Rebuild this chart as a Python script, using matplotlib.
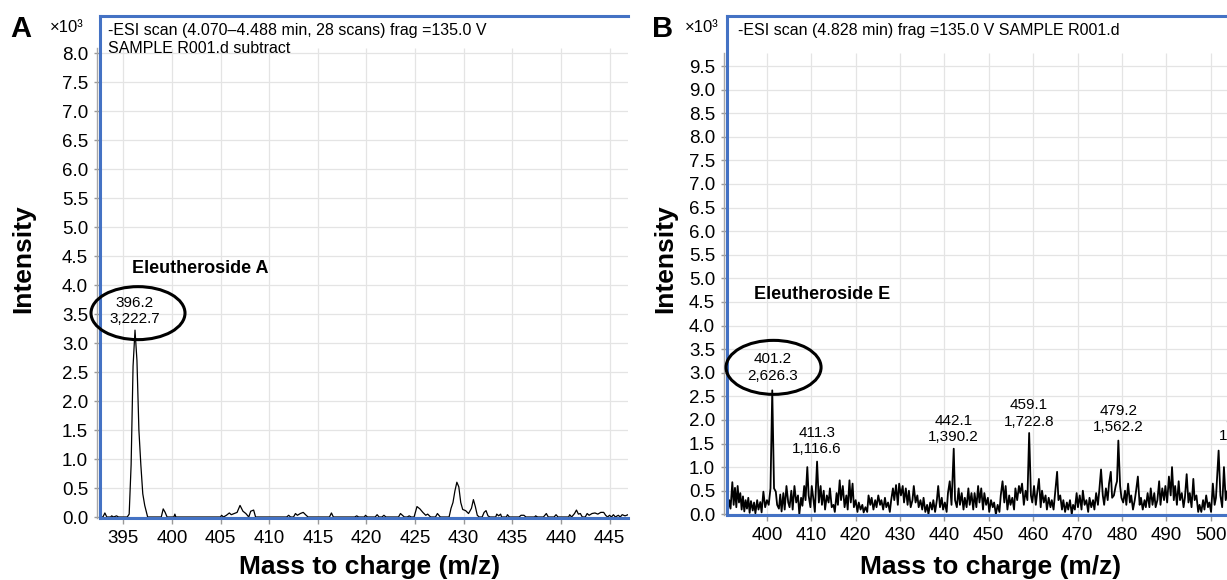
import numpy as np
import matplotlib.pyplot as plt
from matplotlib.patches import Ellipse
from matplotlib import transforms

plt.rcParams['font.family'] = ['Liberation Sans', 'DejaVu Sans']

# ---- panel A: Eleutheroside A spectrum (counts) ----
mz_a = [392.6, 392.9, 393.1, 393.3, 393.7, 393.8, 394.0, 394.3, 394.5, 395.4,
        395.6, 395.8, 396.0, 396.2, 396.4, 396.6, 396.8, 397.0, 397.2, 397.35,
        397.5, 398.9, 399.1, 399.3, 399.5, 400.2, 400.3, 400.4, 405.0, 405.1,
        405.3, 405.6, 405.9, 406.1, 406.4, 406.7, 407.0, 407.3, 407.6, 407.9,
        408.1, 408.4, 408.6, 411.8, 412.0, 412.2, 412.5, 412.7, 412.9, 413.2,
        413.5, 413.8, 414.0, 416.2, 416.4, 416.6, 418.8, 419.0, 419.2, 419.8,
        419.9, 420.1, 420.9, 421.1, 421.3, 421.6, 421.8, 422.0, 423.3, 423.5,
        423.7, 423.9, 424.2, 424.4, 424.6, 424.9, 425.2, 425.5, 425.8, 426.1,
        426.3, 426.6, 427.1, 427.3, 427.6, 428.5, 428.7, 428.9, 429.1, 429.3,
        429.5, 429.7, 429.9, 430.2, 430.5, 430.8, 431.0, 431.2, 431.4, 431.6,
        431.9, 432.1, 432.3, 432.5, 432.7, 433.3, 433.4, 433.6, 433.8, 433.9,
        434.4, 434.5, 434.7, 435.7, 435.9, 436.2, 436.4, 437.3, 437.4, 437.6,
        438.2, 438.5, 438.7, 439.3, 439.5, 439.7, 440.8, 440.9, 441.1, 441.4,
        441.6, 441.8, 442.0, 442.2, 442.5, 442.7, 442.9, 443.2, 443.5, 443.8,
        444.1, 444.4, 444.6, 444.8, 445.0, 445.2, 445.4, 445.6, 445.9, 446.1,
        446.3, 446.6, 446.9]
int_a = [0, 0, 70, 0, 0, 20, 0, 20, 0, 0,
         50, 900, 2600, 3222.7, 2700, 1500, 900, 400, 200, 100,
         0, 0, 140, 80, 0, 0, 50, 0, 0, 30,
         0, 30, 70, 40, 60, 80, 200, 100, 60, 0,
         100, 120, 0, 0, 30, 0, 0, 60, 30, 60,
         80, 30, 0, 0, 70, 0, 0, 20, 0, 0,
         30, 0, 0, 40, 0, 0, 30, 0, 0, 60,
         30, 0, 0, 20, 0, 0, 180, 140, 80, 30,
         50, 0, 0, 60, 0, 0, 150, 250, 450, 600,
         520, 250, 130, 110, 60, 150, 300, 180, 30, 0,
         0, 80, 110, 20, 0, 0, 50, 20, 50, 0,
         0, 40, 0, 0, 30, 30, 0, 0, 20, 0,
         0, 60, 0, 0, 40, 0, 0, 40, 0, 60,
         120, 50, 60, 0, 0, 60, 30, 60, 70, 50,
         80, 80, 30, 0, 30, 0, 40, 0, 30, 0,
         40, 20, 40]
peak_mz_a = [396.2]
peak_int_a = [3222.7]

# ---- panel B: Eleutheroside E spectrum (counts) ----
mz_b = [391.2, 391.5, 391.8, 392.2, 392.5, 392.8, 393.1, 393.4, 393.7, 394.0,
        394.3, 394.6, 394.9, 395.2, 395.5, 395.8, 396.1, 396.4, 396.8, 397.1,
        397.4, 397.8, 398.1, 398.5, 398.8, 399.2, 399.6, 400.0, 400.4, 400.8,
        401.2, 401.6, 402.0, 402.3, 402.7, 403.0, 403.3, 403.7, 404.0, 404.4,
        404.8, 405.1, 405.5, 405.8, 406.2, 406.6, 407.0, 407.3, 407.7, 408.0,
        408.4, 408.7, 409.1, 409.4, 409.8, 410.1, 410.5, 410.8, 411.3, 411.7,
        412.1, 412.4, 412.8, 413.1, 413.5, 413.9, 414.2, 414.6, 415.0, 415.3,
        415.7, 416.0, 416.4, 416.7, 417.1, 417.5, 417.9, 418.2, 418.6, 418.9,
        419.3, 419.6, 420.0, 420.4, 420.7, 421.1, 421.5, 421.8, 422.2, 422.6,
        422.9, 423.3, 423.6, 424.0, 424.4, 424.7, 425.1, 425.5, 425.8, 426.2,
        426.6, 426.9, 427.3, 427.7, 428.0, 428.4, 428.7, 429.1, 429.5, 429.8,
        430.2, 430.6, 430.9, 431.3, 431.7, 432.0, 432.4, 432.8, 433.1, 433.5,
        433.9, 434.2, 434.6, 435.0, 435.3, 435.7, 436.1, 436.4, 436.8, 437.2,
        437.5, 437.9, 438.3, 438.6, 439.0, 439.4, 439.7, 440.1, 440.5, 440.8,
        441.2, 441.6, 442.1, 442.4, 442.8, 443.2, 443.5, 443.9, 444.3, 444.6,
        445.0, 445.4, 445.7, 446.1, 446.5, 446.8, 447.2, 447.6, 447.9, 448.3,
        448.7, 449.0, 449.4, 449.8, 450.1, 450.5, 450.9, 451.2, 451.6, 452.0,
        452.4, 452.7, 453.1, 453.5, 453.8, 454.2, 454.6, 454.9, 455.3, 455.7,
        456.0, 456.4, 456.8, 457.1, 457.5, 457.9, 458.3, 458.7, 459.1, 459.5,
        459.8, 460.2, 460.6, 460.9, 461.3, 461.7, 462.0, 462.4, 462.8, 463.1,
        463.5, 463.9, 464.2, 464.6, 465.0, 465.4, 465.7, 466.1, 466.5, 466.8,
        467.2, 467.6, 467.9, 468.3, 468.7, 469.0, 469.4, 469.8, 470.1, 470.5,
        470.9, 471.2, 471.6, 472.0, 472.4, 472.7, 473.1, 473.5, 473.8, 474.2,
        474.6, 474.9, 475.3, 475.7, 476.0, 476.4, 476.8, 477.1, 477.5, 477.8,
        478.2, 478.6, 478.9, 479.2, 479.6, 479.9, 480.3, 480.7, 481.0, 481.4,
        481.8, 482.1, 482.5, 482.9, 483.2, 483.6, 484.0, 484.3, 484.7, 485.1,
        485.4, 485.8, 486.2, 486.5, 486.9, 487.3, 487.6, 488.0, 488.4, 488.7,
        489.1, 489.5, 489.8, 490.2, 490.6, 491.0, 491.3, 491.7, 492.0, 492.4,
        492.8, 493.1, 493.5, 493.9, 494.2, 494.6, 495.0, 495.3, 495.7, 496.1,
        496.4, 496.8, 497.2, 497.5, 497.9, 498.3, 498.6, 499.0, 499.4, 499.7,
        500.1, 500.5, 500.9, 501.2, 501.8, 502.2, 502.6, 503.0, 503.4, 503.8,
        504.2, 504.6, 505.0, 505.4, 505.8, 506.2, 506.6, 507.0, 507.5, 507.9,
        508.3, 508.7, 509.1, 509.5]
int_b = [80, 300, 120, 680, 200, 560, 150, 600, 250, 450,
         100, 380, 60, 300, 120, 350, 30, 280, 80, 250,
         20, 300, 100, 260, 40, 480, 150, 300, 200, 550,
         2626.3, 550, 480, 200, 120, 420, 60, 450, 100, 600,
         250, 150, 500, 100, 600, 250, 400, 0, 350, 180,
         600, 300, 1000, 400, 150, 600, 300, 50, 1116.6, 250,
         600, 200, 500, 100, 400, 250, 550, 150, 200, 50,
         450, 200, 720, 300, 600, 150, 400, 100, 720, 250,
         650, 150, 300, 50, 250, 100, 200, 40, 150, 50,
         400, 200, 350, 100, 300, 150, 400, 200, 300, 100,
         350, 150, 250, 50, 300, 550, 300, 620, 200, 650,
         400, 600, 250, 550, 200, 500, 150, 300, 600, 250,
         400, 150, 300, 100, 350, 50, 200, 0, 250, 100,
         300, 50, 300, 600, 150, 350, 100, 250, 50, 450,
         700, 200, 1390.2, 300, 150, 550, 200, 450, 100, 350,
         150, 550, 200, 450, 100, 450, 150, 600, 250, 550,
         100, 450, 200, 350, 50, 300, 150, 250, 0, 200,
         50, 400, 700, 250, 600, 100, 400, 200, 350, 100,
         550, 300, 600, 450, 650, 200, 500, 300, 1722.8, 400,
         250, 600, 200, 450, 750, 150, 500, 250, 400, 100,
         350, 150, 300, 100, 500, 900, 300, 400, 100, 300,
         50, 250, 100, 300, 0, 200, 100, 450, 150, 400,
         100, 500, 200, 300, 50, 350, 150, 300, 100, 450,
         200, 500, 950, 400, 200, 550, 300, 650, 900, 350,
         400, 600, 700, 1562.2, 600, 350, 250, 500, 200, 650,
         250, 400, 100, 300, 500, 800, 200, 350, 100, 300,
         150, 450, 150, 550, 200, 450, 150, 300, 700, 200,
         550, 300, 600, 250, 800, 400, 1000, 300, 600, 200,
         700, 300, 450, 150, 350, 850, 250, 450, 150, 750,
         300, 400, 50, 200, 50, 300, 100, 400, 150, 250,
         50, 650, 200, 350, 1350, 400, 150, 1000, 300, 500,
         200, 600, 150, 450, 200, 700, 250, 500, 1400, 300,
         400, 150, 350, 100]
peak_mz_b = [401.2, 411.3, 442.1, 459.1, 479.2, 507.5]
peak_int_b = [2626.3, 1116.6, 1390.2, 1722.8, 1562.2, 1400.0]

BLUE = '#4472c4'
GRID = '#e4e4e4'


def draw_panel(ax, mz, inten, lw, xlim, ylim, xticks, yticks, grid_top):
    ax.plot(mz, np.array(inten) / 1000.0, color='black', lw=lw, zorder=2)
    ax.set_xlim(xlim)
    ax.set_ylim(ylim)
    ax.set_xticks(xticks)
    ax.set_yticks(yticks)
    ax.set_yticklabels(['%.1f' % v for v in yticks])
    ax.tick_params(color='#9a9a9a', labelcolor='black', labelsize=13.5,
                   length=4, pad=4.5, width=1)
    ax.hlines(yticks, xlim[0], xlim[1], color=GRID, lw=0.9, zorder=0)
    ax.vlines(xticks, ylim[0], grid_top, color=GRID, lw=0.9, zorder=0)
    for side in ['left', 'top', 'bottom']:
        ax.spines[side].set_color(BLUE)
        ax.spines[side].set_linewidth(2.2)
        ax.spines[side].set_zorder(3)
    ax.spines['right'].set_visible(False)
    gtop = (grid_top - ylim[0]) / (ylim[1] - ylim[0])
    ax.plot([-0.006, -0.006], [0, gtop], transform=ax.transAxes,
            color='#a8a8a8', lw=1, clip_on=False)
    ax.set_xlabel('Mass to charge (m/z)', fontsize=19, fontweight='bold')
    ax.set_ylabel('Intensity', fontsize=19, fontweight='bold')
    ax.xaxis.label.set_va('center')
    ax.yaxis.label.set_va('center')


def label_peaks(ax, pmz, pint, off):
    for m, v, o in zip(pmz, pint, off):
        ax.annotate('%.1f\n%s' % (m, format(v, ',.1f')), xy=(m, v / 1000.0),
                    xytext=(0, o), textcoords='offset points', ha='center',
                    va='center', fontsize=11, linespacing=1.2)


def circle_peak(fig, ax, m, v, dx, dy, w, h):
    tr = fig.dpi_scale_trans + transforms.ScaledTranslation(m, v / 1000.0, ax.transData)
    ax.add_patch(Ellipse((dx, dy), w, h, transform=tr, fill=False,
                         edgecolor='black', lw=2.2, clip_on=False, zorder=4))


fig = plt.figure(figsize=(12.27, 5.8), dpi=100)
ax_a = fig.add_axes([100 / 1227, 62 / 580, 528 / 1227, 502 / 580])
ax_b = fig.add_axes([727 / 1227, 65 / 580, 528 / 1227, 499 / 580])

draw_panel(ax_a, mz_a, int_a, 0.9, (392.6, 446.9), (-0.017, 8.64),
           np.arange(395, 446, 5), np.arange(0, 8.01, 0.5), 8.09)
draw_panel(ax_b, mz_b, int_b, 1.3, (391.0, 509.4), (-0.015, 10.56),
           np.arange(400, 511, 10), np.arange(0, 9.51, 0.5), 9.77)

ax_a.xaxis.set_label_coords(0.51, -0.098)
ax_a.yaxis.set_label_coords(-0.146, 0.516)
ax_b.xaxis.set_label_coords(0.5, -0.104)
ax_b.yaxis.set_label_coords(-0.117, 0.513)

ax_a.text(0.0152, 0.9857, '-ESI scan (4.070\u20134.488 min, 28 scans) frag =135.0 V\nSAMPLE R001.d subtract',
          transform=ax_a.transAxes, ha='left', va='top', fontsize=11.5, linespacing=1.2)
ax_b.text(0.0208, 0.9856, '-ESI scan (4.828 min) frag =135.0 V SAMPLE R001.d',
          transform=ax_b.transAxes, ha='left', va='top', fontsize=11.5)

ax_a.text(0.189, 0.498, 'Eleutheroside A', transform=ax_a.transAxes,
          ha='center', va='center', fontsize=13, fontweight='bold')
ax_b.text(0.18, 0.442, 'Eleutheroside E', transform=ax_b.transAxes,
          ha='center', va='center', fontsize=13, fontweight='bold')

label_peaks(ax_a, peak_mz_a, peak_int_a, [13.7])
label_peaks(ax_b, peak_mz_b, peak_int_b, [16.5, 14.8, 14.3, 14.0, 15.4, 14.5])
circle_peak(fig, ax_a, peak_mz_a[0], peak_int_a[0], 0.03, 0.17, 0.94, 0.53)
circle_peak(fig, ax_b, peak_mz_b[0], peak_int_b[0], 0.013, 0.23, 0.95, 0.54)

fig.text(21 / 1227, 1 - 29 / 580, 'A', ha='center', va='center', fontsize=21, fontweight='bold')
fig.text(663 / 1227, 1 - 29 / 580, 'B', ha='center', va='center', fontsize=21, fontweight='bold')
fig.text(50 / 1227, 1 - 27 / 580, '\u00d710\u00b3', ha='left', va='center', fontsize=12)
fig.text(685 / 1227, 1 - 27 / 580, '\u00d710\u00b3', ha='left', va='center', fontsize=12)

fig.savefig('out.png', dpi=100)
